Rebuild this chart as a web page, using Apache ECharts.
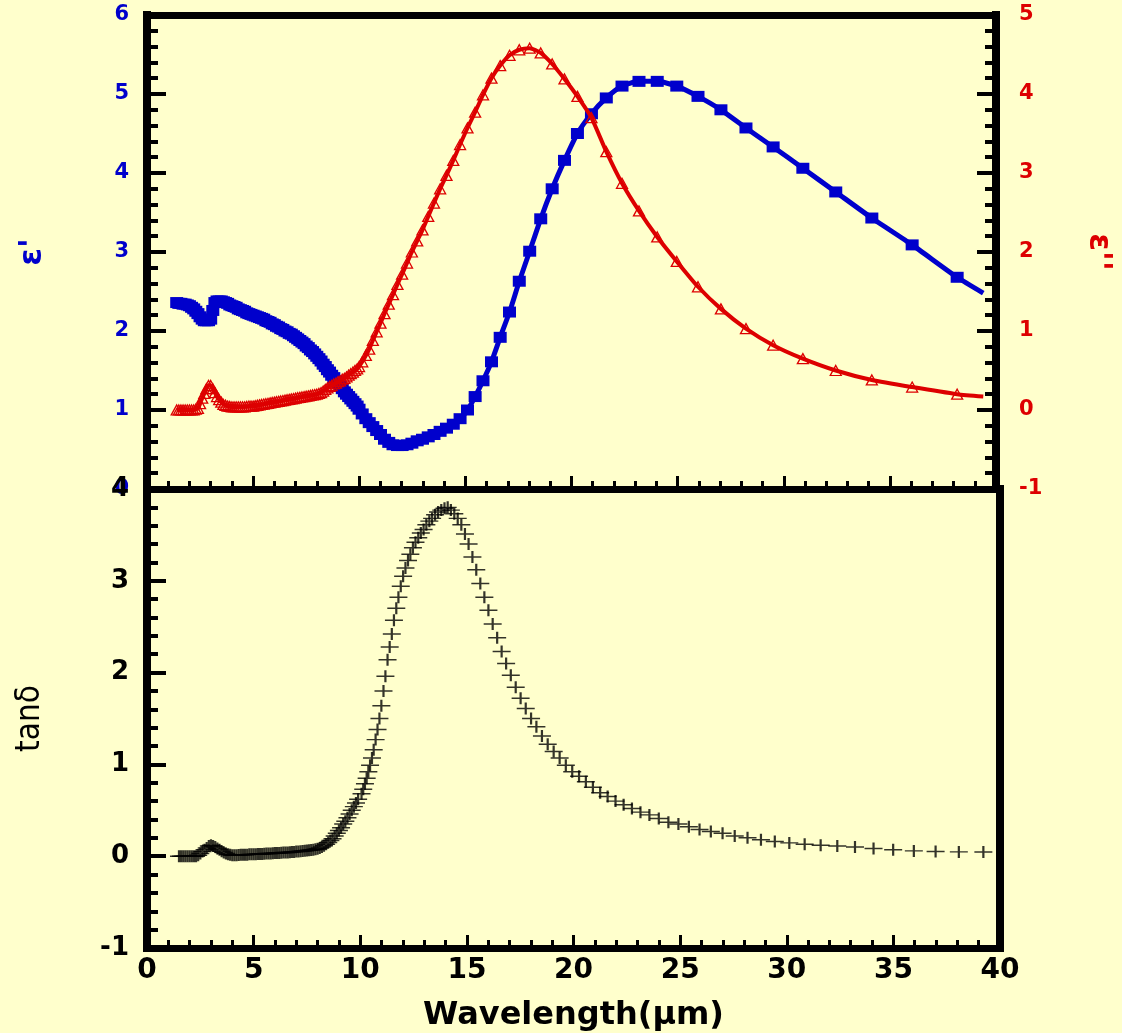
<!DOCTYPE html>
<html>
<head>
<meta charset="utf-8">
<script src="https://cdn.jsdelivr.net/npm/echarts@6.0.0/dist/echarts.min.js"></script>
<style>
  html, body { margin: 0; padding: 0; background: #FFFFCC; }
  #chart { width: 1122px; height: 1033px; }
</style>
</head>
<body>
<div id="chart"></div>
<script>
// ---- Data ----
// Wavelength grid (µm) shared by ε' and ε''
const lamE = [39.4, 38.17, 36.05, 34.15, 32.45, 30.90, 29.50, 28.22, 27.04, 25.96, 24.96,
  24.04, 23.18, 22.38, 21.64, 20.94, 20.28, 19.67, 19.09, 18.55, 18.03,
  17.54, 17.08, 16.64, 16.23, 15.83, 15.46, 15.10, 14.75, 14.43, 14.11,
  13.81, 13.52, 13.25, 12.98, 12.73, 12.48, 12.25, 12.02, 11.80, 11.59,
  11.39, 11.19, 11.00, 10.82, 10.64, 10.47, 10.31, 10.14, 9.99,
  9.9, 9.8, 9.7, 9.6, 9.5, 9.4, 9.3, 9.2, 9.1, 9.0,
  8.9, 8.8, 8.7, 8.6, 8.5, 8.4, 8.3, 8.2, 8.1, 8.0,
  7.9, 7.8, 7.7, 7.6, 7.5, 7.4, 7.3, 7.2, 7.1, 7.0,
  6.9, 6.8, 6.7, 6.6, 6.5, 6.4, 6.3, 6.2, 6.1, 6.0,
  5.9, 5.8, 5.7, 5.6, 5.5, 5.4, 5.3, 5.2, 5.1, 5.0,
  4.9, 4.8, 4.7, 4.6, 4.5, 4.4, 4.3, 4.2, 4.1, 4.0,
  3.9, 3.8, 3.7, 3.6, 3.5, 3.4, 3.3, 3.2, 3.1, 3.0,
  2.9, 2.8, 2.7, 2.6, 2.5, 2.4, 2.3, 2.2, 2.1, 2.0,
  1.9, 1.8, 1.7, 1.6, 1.5, 1.4];

// ε' (left axis of upper panel)
const epsReal = [2.48, 2.68, 3.09, 3.43, 3.76, 4.06, 4.33, 4.57, 4.80, 4.97, 5.10,
  5.16, 5.16, 5.10, 4.95, 4.75, 4.50, 4.16, 3.80, 3.42, 3.01,
  2.63, 2.24, 1.92, 1.61, 1.37, 1.17, 1.00, 0.89, 0.82, 0.77,
  0.73, 0.69, 0.66, 0.63, 0.61, 0.58, 0.56, 0.55, 0.55, 0.56,
  0.59, 0.63, 0.69, 0.74, 0.79, 0.84, 0.89, 0.95, 1.01,
  1.05, 1.08, 1.11, 1.14, 1.17, 1.20, 1.23, 1.27, 1.30, 1.34,
  1.37, 1.41, 1.44, 1.48, 1.51, 1.55, 1.58, 1.62, 1.65, 1.68,
  1.71, 1.74, 1.76, 1.79, 1.81, 1.84, 1.86, 1.88, 1.90, 1.92,
  1.94, 1.96, 1.97, 1.99, 2.00, 2.02, 2.03, 2.05, 2.06, 2.08,
  2.09, 2.11, 2.12, 2.13, 2.15, 2.16, 2.17, 2.18, 2.19, 2.20,
  2.21, 2.22, 2.23, 2.25, 2.26, 2.27, 2.28, 2.30, 2.31, 2.32,
  2.33, 2.35, 2.36, 2.37, 2.38, 2.38, 2.38, 2.36, 2.26, 2.15,
  2.13, 2.13, 2.13, 2.15, 2.18, 2.22, 2.25, 2.28, 2.30, 2.32,
  2.33, 2.34, 2.34, 2.35, 2.35, 2.36];

// ε'' (right axis of upper panel)
const epsImag = [0.17, 0.20, 0.29, 0.38, 0.50, 0.65, 0.82, 1.03, 1.28, 1.56, 1.88,
  2.19, 2.52, 2.87, 3.27, 3.70, 3.97, 4.19, 4.38, 4.52, 4.58,
  4.56, 4.49, 4.36, 4.20, 3.99, 3.77, 3.57, 3.36, 3.16, 2.97,
  2.80, 2.62, 2.45, 2.28, 2.14, 2.00, 1.86, 1.72, 1.59, 1.46,
  1.34, 1.22, 1.10, 0.99, 0.88, 0.77, 0.69, 0.61, 0.55,
  0.52, 0.50, 0.48, 0.46, 0.44, 0.42, 0.40, 0.39, 0.37, 0.36,
  0.34, 0.33, 0.31, 0.30, 0.28, 0.26, 0.24, 0.22, 0.21, 0.20,
  0.195, 0.19, 0.185, 0.18, 0.175, 0.17, 0.165, 0.16, 0.155, 0.15,
  0.145, 0.14, 0.135, 0.13, 0.125, 0.12, 0.115, 0.11, 0.105, 0.10,
  0.095, 0.09, 0.085, 0.08, 0.075, 0.07, 0.065, 0.06, 0.055, 0.05,
  0.05, 0.05, 0.045, 0.04, 0.04, 0.04, 0.04, 0.04, 0.04, 0.04,
  0.045, 0.05, 0.06, 0.07, 0.10, 0.13, 0.17, 0.22, 0.27, 0.31,
  0.31, 0.27, 0.21, 0.15, 0.08, 0.02, 0.01, 0.0, 0.0, 0.0,
  0.0, 0.0, 0.0, 0.0, 0.0, 0.0];

// Wavelength grid (µm) for tanδ
const lamT = [39.22, 38.07, 36.98, 35.96, 34.99, 34.07, 33.20, 32.37, 31.59, 30.84,
  30.12, 29.44, 28.79, 28.16, 27.56, 26.99, 26.44, 25.91, 25.41, 24.92,
  24.45, 24.00, 23.56, 23.14, 22.74, 22.35, 21.97, 21.60, 21.25, 20.91,
  20.58, 20.26, 19.94, 19.64, 19.35, 19.07, 18.79, 18.52, 18.26, 18.01,
  17.76, 17.52, 17.29, 17.06, 16.84, 16.63, 16.42, 16.21, 16.01, 15.82,
  15.63, 15.44, 15.26, 15.08, 14.91, 14.74, 14.57, 14.41, 14.25, 14.10,
  13.95, 13.80, 13.65, 13.51, 13.37, 13.24, 13.10, 12.97, 12.84, 12.72,
  12.59, 12.47, 12.35, 12.24, 12.12, 12.01, 11.90, 11.79, 11.69, 11.58,
  11.48, 11.38, 11.28, 11.18, 11.09, 10.99, 10.90, 10.81, 10.72, 10.63,
  10.55, 10.46, 10.38, 10.30, 10.22, 10.14, 10.06,
  9.9, 9.8, 9.7, 9.6, 9.5, 9.4, 9.3, 9.2, 9.1, 9.0,
  8.9, 8.8, 8.7, 8.6, 8.5, 8.4, 8.3, 8.2, 8.1, 8.0,
  7.9, 7.8, 7.7, 7.6, 7.5, 7.4, 7.3, 7.2, 7.1, 7.0,
  6.9, 6.8, 6.7, 6.6, 6.5, 6.4, 6.3, 6.2, 6.1, 6.0,
  5.9, 5.8, 5.7, 5.6, 5.5, 5.4, 5.3, 5.2, 5.1, 5.0,
  4.9, 4.8, 4.7, 4.6, 4.5, 4.4, 4.3, 4.2, 4.1, 4.0,
  3.9, 3.8, 3.7, 3.6, 3.5, 3.4, 3.3, 3.2, 3.1, 3.0,
  2.9, 2.8, 2.7, 2.6, 2.5, 2.4, 2.3, 2.2, 2.1, 2.0,
  1.9, 1.8, 1.7, 1.6, 1.5];

// tanδ (lower panel)
const tanD = [0.045, 0.047, 0.052, 0.058, 0.07, 0.083, 0.10, 0.11, 0.12, 0.13,
  0.145, 0.16, 0.18, 0.20, 0.22, 0.25, 0.27, 0.29, 0.32, 0.35,
  0.37, 0.41, 0.45, 0.48, 0.52, 0.56, 0.60, 0.65, 0.69, 0.75,
  0.81, 0.87, 0.92, 0.99, 1.07, 1.14, 1.22, 1.31, 1.41, 1.50,
  1.61, 1.72, 1.84, 1.97, 2.10, 2.23, 2.38, 2.53, 2.68, 2.82,
  2.97, 3.12, 3.26, 3.40, 3.51, 3.61, 3.68, 3.73, 3.77, 3.80,
  3.79, 3.77, 3.75, 3.72, 3.68, 3.65, 3.61, 3.56, 3.52, 3.47,
  3.42, 3.36, 3.29, 3.22, 3.14, 3.05, 2.94, 2.82, 2.70, 2.57,
  2.42, 2.28, 2.14, 1.96, 1.80, 1.64, 1.50, 1.38, 1.27, 1.16,
  1.07, 0.99, 0.92, 0.85, 0.79, 0.73, 0.68,
  0.62, 0.58, 0.54, 0.50, 0.46, 0.42, 0.38, 0.35, 0.31, 0.28,
  0.25, 0.22, 0.19, 0.17, 0.15, 0.13, 0.115, 0.10, 0.09, 0.08,
  0.075, 0.07, 0.068, 0.065, 0.062, 0.06, 0.057, 0.055, 0.052, 0.05,
  0.047, 0.045, 0.042, 0.04, 0.04, 0.04, 0.037, 0.035, 0.035, 0.035,
  0.032, 0.03, 0.03, 0.03, 0.027, 0.025, 0.025, 0.025, 0.022, 0.02,
  0.02, 0.02, 0.017, 0.015, 0.015, 0.015, 0.012, 0.01, 0.01, 0.01,
  0.015, 0.02, 0.03, 0.04, 0.055, 0.07, 0.085, 0.10, 0.11, 0.12,
  0.11, 0.09, 0.07, 0.05, 0.03, 0.01, 0.0, 0.0, 0.0, 0.0,
  0.0, 0.0, 0.0, 0.0, 0.0];

// Axis ticks
const xTicks = { min: 0, max: 40, interval: 5 };
const yEpsReal = { min: 0, max: 6, interval: 1 };
const yEpsImag = { min: -1, max: 5, interval: 1 };
const yTan = { min: -1, max: 4, interval: 1 };

// ---- Styling ----
const BG = '#FFFFCC';
const BLUE = '#0000CC';
const RED = '#DD0000';
const FONT = '"DejaVu Sans", "Liberation Sans", sans-serif';

function pairs(xs, ys) {
  const n = Math.min(xs.length, ys.length);
  const out = [];
  for (let i = 0; i < n; i++) out.push([xs[i], ys[i]]);
  return out;
}
// first point (the line's end) carries no marker, as in the reference
function lineData(xs, ys) {
  return pairs(xs, ys).map((p, i) => i === 0 ? { value: p, symbol: 'none' } : p);
}

const frameV = { show: true, onZero: false, lineStyle: { color: '#000', width: 8, cap: 'square' } };
const frameH = { show: true, onZero: false, lineStyle: { color: '#000', width: 7, cap: 'square' } };
const yTick = { show: true, inside: true, length: 19, lineStyle: { color: '#000', width: 4 } };
const yMinor = { show: true, splitNumber: 5, length: 11, lineStyle: { color: '#000', width: 4 } };
const xTick = { show: true, inside: true, length: 13, lineStyle: { color: '#000', width: 3 } };
const xMinor = { show: true, splitNumber: 5, length: 8, lineStyle: { color: '#000', width: 3 } };
const off = { show: false };

const option = {
  backgroundColor: BG,
  animation: false,
  grid: [
    { left: 147, top: 15, width: 853, height: 474 },
    { left: 147, top: 489, width: 853, height: 459 }
  ],
  xAxis: [
    { gridIndex: 0, type: 'value', position: 'bottom', ...xTicks,
      axisLine: frameH, axisTick: xTick, minorTick: xMinor, axisLabel: off, splitLine: off },
    { gridIndex: 0, type: 'value', position: 'top', ...xTicks,
      axisLine: frameH, axisTick: off, axisLabel: off, splitLine: off },
    { gridIndex: 1, type: 'value', position: 'bottom', ...xTicks,
      axisLine: frameH, axisTick: xTick, minorTick: xMinor, splitLine: off,
      axisLabel: { color: '#000', fontFamily: FONT, fontWeight: 'bold', fontSize: 28, margin: 9 },
      name: 'Wavelength(μm)', nameLocation: 'middle', nameGap: 52,
      nameTextStyle: { color: '#000', fontFamily: FONT, fontWeight: 'bold', fontSize: 32 } }
  ],
  yAxis: [
    { gridIndex: 0, type: 'value', position: 'left', ...yEpsReal,
      axisLine: frameV, axisTick: yTick, minorTick: yMinor, splitLine: off, showMinLabel: false,
      axisLabel: { color: BLUE, fontFamily: FONT, fontWeight: 'bold', fontSize: 21, margin: 18 },
      name: "ε'", nameLocation: 'middle', nameRotate: 90, nameGap: 98,
      nameTextStyle: { color: BLUE, fontFamily: FONT, fontWeight: 'bold', fontSize: 32 } },
    { gridIndex: 0, type: 'value', position: 'right', ...yEpsImag,
      axisLine: frameV, axisTick: yTick, minorTick: yMinor, splitLine: off,
      axisLabel: { color: RED, fontFamily: FONT, fontWeight: 'bold', fontSize: 21, margin: 23 },
      name: "ε''", nameLocation: 'middle', nameRotate: -90, nameGap: 86,
      nameTextStyle: { color: RED, fontFamily: FONT, fontWeight: 'bold', fontSize: 32 } },
    { gridIndex: 1, type: 'value', position: 'left', ...yTan,
      axisLine: frameV, axisTick: yTick, minorTick: yMinor, splitLine: off,
      axisLabel: { color: '#000', fontFamily: FONT, fontWeight: 'bold', fontSize: 26, margin: 18 },
      name: 'tanδ', nameLocation: 'middle', nameRotate: 90, nameGap: 100,
      nameTextStyle: { color: '#000', fontFamily: '"Liberation Sans Narrow", "DejaVu Sans Condensed", sans-serif', fontSize: 33 } },
    { gridIndex: 1, type: 'value', position: 'right', ...yTan,
      axisLine: frameV, axisTick: off, axisLabel: off, splitLine: off }
  ],
  series: [
    { name: "ε'", type: 'line', xAxisIndex: 0, yAxisIndex: 0, z: 3,
      data: lineData(lamE, epsReal), smooth: 0.2, showAllSymbol: true,
      symbol: 'rect', symbolSize: [13, 11],
      lineStyle: { color: BLUE, width: 5 }, itemStyle: { color: BLUE } },
    { name: "ε''", type: 'line', xAxisIndex: 0, yAxisIndex: 1, z: 4,
      data: lineData(lamE, epsImag), smooth: 0.2, showAllSymbol: true,
      symbol: 'triangle', symbolSize: [11, 10],
      lineStyle: { color: RED, width: 4 },
      itemStyle: { color: 'rgba(0,0,0,0)', borderColor: RED, borderWidth: 1.3 } },
    { name: 'tanδ', type: 'scatter', xAxisIndex: 2, yAxisIndex: 2, z: 3,
      data: pairs(lamT, tanD),
      symbol: 'path://M0 6L18 6M9 0L9 12', symbolSize: [18, 12],
      itemStyle: { color: 'rgba(0,0,0,0)', borderColor: '#000', borderWidth: 1.8 } }
  ]
};

const chart = echarts.init(document.getElementById('chart'));
chart.setOption(option);
</script>
</body>
</html>
